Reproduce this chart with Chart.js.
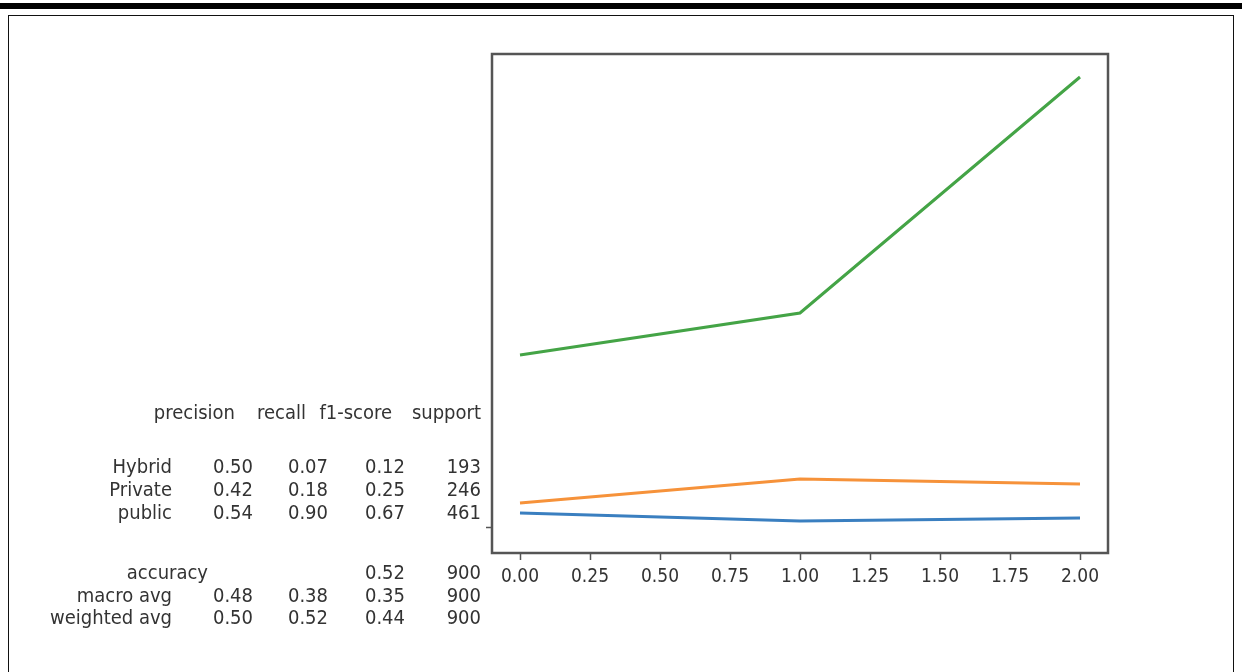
<!DOCTYPE html>
<html><head><meta charset="utf-8">
<script src="https://cdn.jsdelivr.net/npm/chart.js@4/dist/chart.umd.min.js"></script>
<style>
html,body{margin:0;padding:0;background:#fff;width:1242px;height:672px;overflow:hidden;}
#wrap{position:absolute;left:0;top:0;width:1242px;height:672px;}
#topbar{position:absolute;left:0;top:3px;width:1242px;height:6px;background:#000;}
#frame{position:absolute;left:8px;top:15px;width:1226px;height:700px;border:1.5px solid #111;box-sizing:border-box;}
.t{position:absolute;font-family:"DejaVu Sans Condensed","DejaVu Sans",sans-serif;font-size:20px;color:#333;white-space:nowrap;line-height:22px;}
.r{transform:translateX(-100%);}
</style></head>
<body>
<div id="wrap">
<div id="topbar"></div>
<div id="frame"></div>
<canvas id="c" width="1242" height="672" style="position:absolute;left:0;top:0;"></canvas>
<div id="tbl"></div>
</div>
<script>
// ---- data ----
const xPositions = [0, 1, 2];
const blueSeries = [14, 6, 9];
const orangeSeries = [24, 48, 43];
const greenSeries = [172, 214, 450];
const xTickValues = [0, 0.25, 0.5, 0.75, 1, 1.25, 1.5, 1.75, 2];
const yTickValues = [0];

const headerCols = ["precision", "recall", "f1-score", "support"];
const rowLabels = ["Hybrid", "Private", "public"];
const precisionVals = ["0.50", "0.42", "0.54"];
const recallVals = ["0.07", "0.18", "0.90"];
const f1Vals = ["0.12", "0.25", "0.67"];
const supportVals = ["193", "246", "461"];
const summaryLabels = ["accuracy", "macro avg", "weighted avg"];
const summaryPrecision = ["", "0.48", "0.50"];
const summaryRecall = ["", "0.38", "0.52"];
const summaryF1 = ["0.52", "0.35", "0.44"];
const summarySupport = ["900", "900", "900"];

// ---- table text (HTML) ----
const tbl = document.getElementById('tbl');
function addText(txt, rightX, y) {
  if (!txt) return;
  const d = document.createElement('div');
  d.className = 't r';
  d.style.left = rightX + 'px';
  d.style.top = (y - 11) + 'px';
  d.textContent = txt;
  tbl.appendChild(d);
}
const colRight = [253, 328, 405, 481];
const headRight = [235, 306, 392, 481];
headerCols.forEach((h, i) => addText(h, headRight[i], 412));
const rowY = [466, 489, 512];
rowLabels.forEach((l, i) => {
  addText(l, 172, rowY[i]);
  addText(precisionVals[i], colRight[0], rowY[i]);
  addText(recallVals[i], colRight[1], rowY[i]);
  addText(f1Vals[i], colRight[2], rowY[i]);
  addText(supportVals[i], colRight[3], rowY[i]);
});
const sumY = [572, 595, 617];
const sumLabelRight = [208, 172, 172];
summaryLabels.forEach((l, i) => {
  addText(l, sumLabelRight[i], sumY[i]);
  addText(summaryPrecision[i], colRight[0], sumY[i]);
  addText(summaryRecall[i], colRight[1], sumY[i]);
  addText(summaryF1[i], colRight[2], sumY[i]);
  addText(summarySupport[i], colRight[3], sumY[i]);
});

// ---- chart ----
const framePlugin = {
  id: 'frame',
  afterDraw(chart) {
    const {ctx, chartArea: a} = chart;
    ctx.save();
    ctx.strokeStyle = '#555';
    ctx.lineWidth = 2.5;
    ctx.strokeRect(a.left, a.top, a.right - a.left, a.bottom - a.top);
    ctx.restore();
  }
};
const mk = (data, color) => ({
  data: data.map((v, i) => ({x: xPositions[i], y: v})),
  borderColor: color, backgroundColor: color,
  borderWidth: 3, pointRadius: 0, tension: 0, fill: false
});
new Chart(document.getElementById('c'), {
  type: 'line',
  data: {datasets: [mk(blueSeries, '#3a7fc0'), mk(orangeSeries, '#f6923a'), mk(greenSeries, '#44a446')]},
  plugins: [framePlugin],
  options: {
    responsive: false, animation: false,
    layout: {padding: {left: 492, top: 54, right: 134, bottom: 79}},
    plugins: {legend: {display: false}, tooltip: {enabled: false}},
    scales: {
      x: {
        type: 'linear', min: -0.1, max: 2.1,
        afterBuildTicks: s => { s.ticks = xTickValues.map(v => ({value: v})); },
        afterFit: s => { s.height = 40; },
        border: {display: false},
        grid: {drawOnChartArea: false, tickLength: 7, color: '#555', tickWidth: 1.5},
        ticks: {padding: 6, color: '#333', font: {family: '"DejaVu Sans Condensed","DejaVu Sans"', size: 19},
          callback: v => Number(v).toFixed(2), maxRotation: 0}
      },
      y: {
        type: 'linear', min: -26, max: 473,
        afterBuildTicks: s => { s.ticks = yTickValues.map(v => ({value: v})); },
        afterFit: s => { s.width = 0; },
        border: {display: false},
        grid: {drawOnChartArea: false, tickLength: 6, color: '#555', tickWidth: 1.5},
        ticks: {display: false}
      }
    }
  }
});
</script>
</body></html>
